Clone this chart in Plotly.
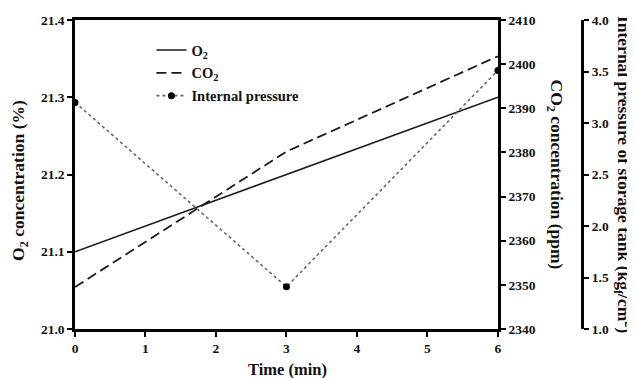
import plotly.graph_objects as go

# ---- data ----
time_min = [0, 3, 6]
o2_pct = [21.1, 21.2, 21.3]
co2_ppm = [2349.5, 2380.2, 2401.8]
pressure_kgf = [3.2, 1.41, 3.51]

x_ticks = [0, 1, 2, 3, 4, 5, 6]
o2_ticks = [21.0, 21.1, 21.2, 21.3, 21.4]
co2_ticks = [2340, 2350, 2360, 2370, 2380, 2390, 2400, 2410]
p_ticks = [1.0, 1.5, 2.0, 2.5, 3.0, 3.5, 4.0]

FONT = "Liberation Serif"
OFF = 8  # page body margin
W, H = 635 - OFF, 378 - OFF
L, R, T = 75 - OFF, 5, 20 - OFF
B = H - (329 - OFF)
plot_right = 501
pw = W - L - R
ph = H - T - B

def px_x(p):  # reference page pixel -> paper
    return (p - OFF - L) / pw

def px_y(p):
    return (H - B - (p - OFF)) / ph

fig = go.Figure()
fig.add_trace(go.Scatter(x=time_min, y=o2_pct, mode="lines", name="O<sub>2</sub>",
                         line=dict(color="#1a1a1a", width=1.6), legendgroup="a"))
fig.add_trace(go.Scatter(x=time_min, y=co2_ppm, mode="lines", name="CO<sub>2</sub>", yaxis="y2",
                         line=dict(color="#1a1a1a", width=1.8, dash="10px,5px"), legendgroup="b"))
fig.add_trace(go.Scatter(x=time_min, y=pressure_kgf, mode="lines+markers", name="Internal pressure",
                         yaxis="y3", line=dict(color="#666666", width=1.6, dash="dot"),
                         marker=dict(color="black", size=7), legendgroup="c"))

tickfont = dict(family=FONT, size=13.5, color="#111", weight="bold")
axis_common = dict(showline=True, linecolor="black", linewidth=2.5, ticks="outside",
                   ticklen=5, tickwidth=2, tickcolor="black", showgrid=False, zeroline=False,
                   tickfont=tickfont)

xdom_end = px_x(plot_right)
fig.update_layout(
    width=W, height=H, margin=dict(l=L, r=R, t=T, b=B),
    paper_bgcolor="white", plot_bgcolor="white",
    showlegend=True,
    legend=dict(x=px_x(152), y=px_y(34), xanchor="left", yanchor="top",
                font=dict(family=FONT, size=14.5, color="#111", weight="bold"),
                bgcolor="rgba(0,0,0,0)", tracegroupgap=1, itemwidth=30),
    xaxis=dict(domain=[0, xdom_end], range=[0, 6], tickvals=x_ticks, mirror=True, **axis_common),
    yaxis=dict(range=[21.0, 21.4], tickvals=o2_ticks, tickformat=".1f", **axis_common),
    yaxis2=dict(range=[2340, 2410], tickvals=co2_ticks, overlaying="y", side="right",
                anchor="x", **axis_common),
    yaxis3=dict(range=[1.0, 4.0], tickvals=p_ticks, tickformat=".1f", overlaying="y",
                side="right", anchor="free", position=px_x(586), **axis_common),
)

titlefont = dict(family=FONT, size=17.5, color="#111", weight="bold")
fig.add_annotation(text="O<sub>2</sub> concentration (%)", xref="paper", yref="paper",
                   x=px_x(18.5), y=px_y(180), textangle=-90, showarrow=False, font=titlefont,
                   xanchor="center", yanchor="middle")
fig.add_annotation(text="CO<sub>2</sub> concentration (ppm)", xref="paper", yref="paper",
                   x=px_x(559), y=px_y(174), textangle=90, showarrow=False, font=titlefont,
                   xanchor="center", yanchor="middle")
fig.add_annotation(text="Internal pressure of storage tank (kg<sub>f</sub>/cm<sup>2</sup>)",
                   xref="paper", yref="paper",
                   x=px_x(628), y=px_y(174), textangle=90, showarrow=False, font=titlefont,
                   xanchor="center", yanchor="middle")
fig.add_annotation(text="Time (min)", xref="paper", yref="paper",
                   x=px_x(289), y=px_y(369), showarrow=False,
                   font=dict(family=FONT, size=16.5, color="#111", weight="bold"),
                   xanchor="center", yanchor="middle")

fig.write_html("out.html")
